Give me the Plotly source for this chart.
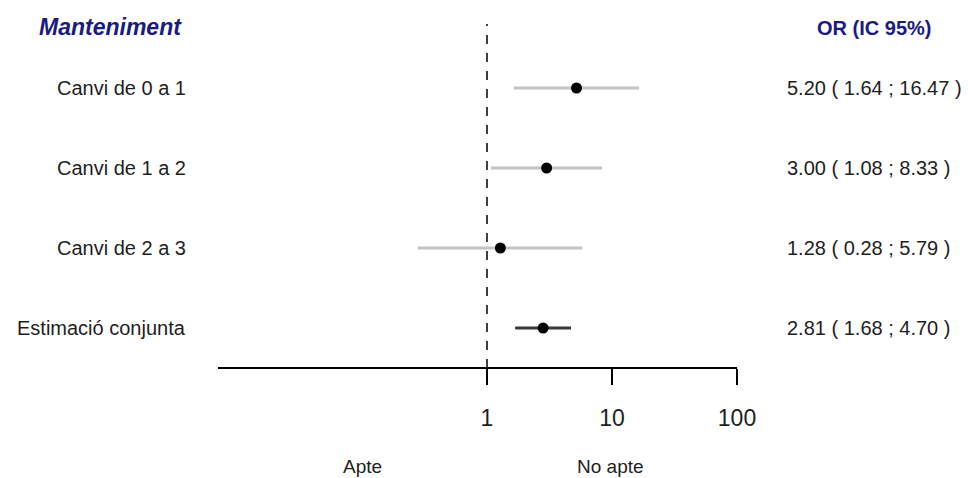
import plotly.graph_objects as go

labels = ["Canvi de 0 a 1", "Canvi de 1 a 2", "Canvi de 2 a 3", "Estimació conjunta"]
or_vals = [5.20, 3.00, 1.28, 2.81]
ci_low = [1.64, 1.08, 0.28, 1.68]
ci_high = [16.47, 8.33, 5.79, 4.70]
tick_vals = [1, 10, 100]
tick_text = ["1", "10", "100"]
header_left = "Manteniment"
header_right = "OR (IC 95%)"
side_labels = ["Apte", "No apte"]

rows = list(range(1, len(labels) + 1))
n_study = len(labels) - 1

W, H = 968, 478
FONT = "Arial, Liberation Sans, sans-serif"
TXT = "#1e1e1e"
NAVY = "#1a1a85"

fig = go.Figure()
xs, ys = [], []
for i in range(n_study):
    xs += [ci_low[i], ci_high[i], None]
    ys += [rows[i], rows[i], None]
fig.add_trace(go.Scatter(x=xs, y=ys, mode="lines",
                         line=dict(color="#c4c4c4", width=3),
                         hoverinfo="skip", showlegend=False))
fig.add_trace(go.Scatter(x=[ci_low[-1], ci_high[-1]], y=[rows[-1], rows[-1]],
                         mode="lines", line=dict(color="#3a3a3a", width=3),
                         hoverinfo="skip", showlegend=False))
fig.add_trace(go.Scatter(x=or_vals, y=rows, mode="markers",
                         marker=dict(color="black", size=11),
                         showlegend=False))
fig.add_shape(type="line", xref="x", yref="paper", x0=1, x1=1,
              y0=1 - 368 / H, y1=1 - 24 / H,
              line=dict(color="black", width=1.5, dash="dash"))

ann = []
ann.append(dict(text="<b><i>" + header_left + "</i></b>", xref="paper", yref="paper",
                x=37 / W, y=1 - 27 / H, xanchor="left", yanchor="middle",
                showarrow=False, font=dict(family=FONT, size=23, color=NAVY)))
ann.append(dict(text="<b>" + header_right + "</b>", xref="paper", yref="paper",
                x=874 / W, y=1 - 28 / H, xanchor="center", yanchor="middle",
                showarrow=False, font=dict(family=FONT, size=20, color=NAVY)))
for i, lab in enumerate(labels):
    ann.append(dict(text=lab, xref="paper", yref="y", x=188 / W, y=rows[i],
                    xanchor="right", yanchor="middle", showarrow=False,
                    font=dict(family=FONT, size=20, color=TXT)))
    txt = f"{or_vals[i]:.2f} ( {ci_low[i]:.2f} ; {ci_high[i]:.2f} )"
    ann.append(dict(text=txt, xref="paper", yref="y", x=785 / W, y=rows[i],
                    xanchor="left", yanchor="middle", showarrow=False,
                    font=dict(family=FONT, size=20, color=TXT)))
ann.append(dict(text=side_labels[0], xref="paper", yref="paper", x=362 / W, y=1 - 466 / H,
                xanchor="center", yanchor="middle", showarrow=False,
                font=dict(family=FONT, size=19, color=TXT)))
ann.append(dict(text=side_labels[1], xref="paper", yref="paper", x=610 / W, y=1 - 466 / H,
                xanchor="center", yanchor="middle", showarrow=False,
                font=dict(family=FONT, size=19, color=TXT)))

fig.update_layout(
    width=W, height=H, autosize=False,
    margin=dict(l=0, r=0, t=0, b=0, pad=0, autoexpand=False),
    paper_bgcolor="white", plot_bgcolor="white",
    annotations=ann,
    xaxis=dict(type="log", domain=[218 / W, 737 / W], range=[-2.152, 2],
               anchor="free", position=1 - 368 / H, automargin=False,
               showline=True, linecolor="black", linewidth=1.5,
               ticks="outside", ticklen=16, tickwidth=1.5, tickcolor="black",
               tickvals=tick_vals, ticktext=tick_text, ticklabelstandoff=14,
               tickfont=dict(family=FONT, size=23, color=TXT),
               showgrid=False, zeroline=False),
    yaxis=dict(domain=[0, 1], range=[5.875, -0.1], visible=False, automargin=False),
)

post = "document.body.style.margin='0';"

fig.write_html("out.html", post_script=post,
               config={"responsive": False, "displayModeBar": False})
